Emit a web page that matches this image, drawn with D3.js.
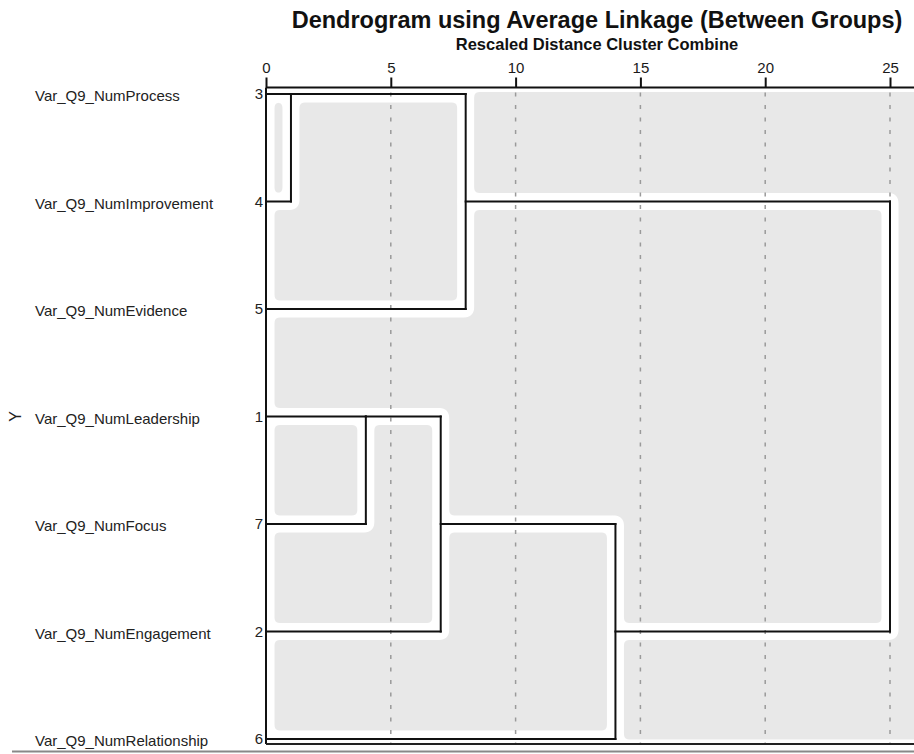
<!DOCTYPE html>
<html>
<head>
<meta charset="utf-8">
<script src="https://cdn.jsdelivr.net/npm/d3@7"></script>
<style>
  html, body { margin: 0; padding: 0; background: #fff; }
  svg { display: block; font-family: "Liberation Sans", Arial, sans-serif; }
</style>
</head>
<body>
<svg id="chart" width="914" height="754"></svg>
<script>
// Leaves in the order they are drawn, top to bottom
const leafCases = [3, 4, 5, 1, 7, 2, 6];
const leafLabels = [
  "Var_Q9_NumProcess",
  "Var_Q9_NumImprovement",
  "Var_Q9_NumEvidence",
  "Var_Q9_NumLeadership",
  "Var_Q9_NumFocus",
  "Var_Q9_NumEngagement",
  "Var_Q9_NumRelationship"
];

// Agglomeration schedule: cluster joined, cluster absorbed, rescaled distance
const joinFirst = [3, 1, 1, 3, 1, 3];
const joinSecond = [4, 7, 2, 5, 6, 1];
const joinDistance = [1, 4, 7, 8, 14, 25];

const tickValues = [0, 5, 10, 15, 20, 25];

const titleText = "Dendrogram using Average Linkage (Between Groups)";
const subtitleText = "Rescaled Distance Cluster Combine";
const yAxisTitle = "Y";

const W = 914, H = 754;
const svg = d3.select("#chart");

const x = d3.scaleLinear().domain([0, 25]).range([266, 890]);
const y = d3.scalePoint().domain(leafCases).range([94, 739]);

const plotTop = 87.5, plotBottom = 744, plotRight = W;
const rowY = r => y(leafCases[r]);

// Build dendrogram segments from the schedule
const segments = [];
const state = new Map(leafCases.map((c, i) => [c, { row: i, d: 0 }]));
joinFirst.forEach((a, i) => {
  const A = state.get(a), B = state.get(joinSecond[i]);
  const d = joinDistance[i];
  segments.push([[x(A.d), rowY(A.row)], [x(d), rowY(A.row)]]);
  segments.push([[x(B.d), rowY(B.row)], [x(d), rowY(B.row)]]);
  segments.push([[x(d), rowY(A.row)], [x(d), rowY(B.row)]]);
  state.set(a, { row: Math.floor((A.row + B.row) / 2), d: d });
  state.delete(joinSecond[i]);
});

const line = d3.line();

// Filter: soften the white halo and round the inner corners of the grey cells
const defs = svg.append("defs");
const f = defs.append("filter").attr("id", "halo")
  .attr("x", "-5%").attr("y", "-5%").attr("width", "110%").attr("height", "110%")
  .attr("color-interpolation-filters", "sRGB");
f.append("feGaussianBlur").attr("in", "SourceGraphic").attr("stdDeviation", 2.6).attr("result", "b");
const ct = f.append("feComponentTransfer").attr("in", "b").attr("result", "t");
ct.append("feFuncA").attr("type", "linear").attr("slope", 7).attr("intercept", -3);
f.append("feGaussianBlur").attr("in", "t").attr("stdDeviation", 0.7);

// Grey plot background
svg.append("rect")
  .attr("x", x(0)).attr("y", plotTop)
  .attr("width", plotRight - x(0)).attr("height", plotBottom - plotTop)
  .attr("fill", "#e8e8e8");

// White halo around the frame and the tree
const halo = svg.append("g").attr("filter", "url(#halo)")
  .attr("fill", "none").attr("stroke", "#fff")
  .attr("stroke-linecap", "round").attr("stroke-linejoin", "round");
halo.append("path").attr("d", line([[x(0), plotTop], [plotRight + 20, plotTop]])).attr("stroke-width", 9);
halo.append("path").attr("d", line([[x(0), plotBottom], [plotRight + 20, plotBottom]])).attr("stroke-width", 9);
halo.append("path").attr("d", line([[x(0), plotTop], [x(0), plotBottom]])).attr("stroke-width", 17);
halo.selectAll("path.seg").data(segments).join("path").attr("class", "seg")
  .attr("d", d => line(d)).attr("stroke-width", 17);

// Dashed reference lines
svg.append("g").selectAll("line").data(tickValues.filter(t => t > 0)).join("line")
  .attr("x1", d => x(d)).attr("x2", d => x(d))
  .attr("y1", plotTop + 5).attr("y2", plotBottom)
  .attr("stroke", "#9a9a9a").attr("stroke-width", 1.5)
  .attr("stroke-dasharray", "4 8.5");

// Top axis
const axis = d3.axisTop(x).tickValues(tickValues).tickSize(10).tickSizeOuter(0).tickPadding(5);
const gAxis = svg.append("g").attr("transform", `translate(0,${plotTop})`).call(axis);
gAxis.select(".domain").attr("d", `M${x(0)},0H${plotRight}`).attr("stroke", "#111").attr("stroke-width", 2);
gAxis.selectAll(".tick line").attr("stroke", "#111").attr("stroke-width", 2);
gAxis.selectAll(".tick text").attr("font-size", 15).attr("fill", "#1a1a1a")
  .attr("font-family", "Liberation Sans, Arial, sans-serif");

// Frame: left edge and bottom
svg.append("path").attr("d", line([[x(0), plotTop], [x(0), plotBottom]]))
  .attr("stroke", "#111").attr("stroke-width", 2).attr("fill", "none");
svg.append("path").attr("d", line([[x(0), plotBottom], [plotRight, plotBottom]]))
  .attr("stroke", "#222").attr("stroke-width", 2).attr("fill", "none");
svg.append("path").attr("d", line([[12, 751.5], [plotRight, 751.5]]))
  .attr("stroke", "#888").attr("stroke-width", 2).attr("fill", "none");

// Tree
svg.append("g").selectAll("path").data(segments).join("path")
  .attr("d", d => line(d))
  .attr("fill", "none").attr("stroke", "#111").attr("stroke-width", 2)
  .attr("stroke-linecap", "square");

// Leaf labels and case numbers
const leaves = svg.append("g").attr("font-size", 15).attr("fill", "#222");
leaves.selectAll("text.name").data(leafCases).join("text").attr("class", "name")
  .attr("x", 35).attr("y", d => y(d) + 2).attr("dy", "0.35em")
  .text((d, i) => leafLabels[i]);
leaves.selectAll("text.num").data(leafCases).join("text").attr("class", "num")
  .attr("x", x(0) - 3).attr("y", d => y(d)).attr("dy", "0.35em")
  .attr("text-anchor", "end").text(d => d);

// Y-axis title, rotated beside the middle leaf
svg.append("text")
  .attr("transform", `translate(15,${y(1)}) rotate(-90)`)
  .attr("text-anchor", "middle").attr("dy", "0.35em")
  .attr("font-size", 16).attr("fill", "#222").text(yAxisTitle);

// Titles
svg.append("text").attr("x", 597).attr("y", 28).attr("text-anchor", "middle")
  .attr("font-size", 23.5).attr("font-weight", "bold").attr("fill", "#111").text(titleText);
svg.append("text").attr("x", 597).attr("y", 50).attr("text-anchor", "middle")
  .attr("font-size", 16.5).attr("font-weight", "bold").attr("fill", "#111").text(subtitleText);
</script>
</body>
</html>
